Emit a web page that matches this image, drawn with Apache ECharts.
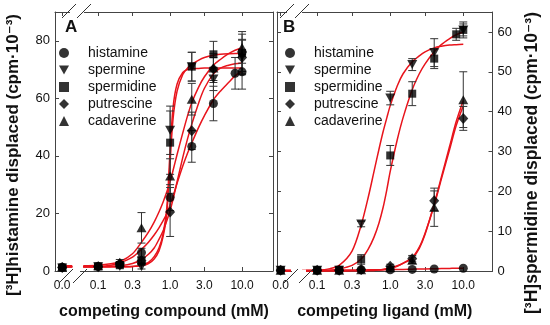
<!DOCTYPE html>
<html><head><meta charset="utf-8">
<script src="https://cdn.jsdelivr.net/npm/echarts@6/dist/echarts.min.js"></script>
<style>html,body{margin:0;padding:0;background:#fff}#c{width:550px;height:325px}</style>
</head><body><div id="c"></div>
<script>
// ---------- data ----------
const seriesNames = ['histamine', 'spermine', 'spermidine', 'putrescine', 'cadaverine'];
const tickConcs = [0, 0.1, 0.3, 1, 3, 10];
const tickLabels = ['0.0', '0.1', '0.3', '1.0', '3.0', '10.0'];
const yTicksA = [0, 20, 40, 60, 80];
const yTicksB = [0, 10, 20, 30, 40, 50, 60];
const titleYA = '[³H]histamine displaced (cpm·10⁻³)';
const titleYB = '[³H]spermidine displaced (cpm·10⁻³)';

// Panel A: measured points (mean, error) at concentrations (mM)
const concA = [0, 0.1, 0.2, 0.4, 1, 2, 4, 8, 10];
const histamineA  = [1.3, 1.6, 2.3, 6.4, 25.5, 43.3, 58.2, 68.7, 69.2];
const histamineAErr = [0.5, 0.5, 0.8, 1.5, 4.5, 5.5, 6, 5.5, 6];
const spermineA   = [1.0, 1.5, 1.6, 1.5, 48.9, 71.0, 66.7, null, 74.5];
const spermineAErr = [0.3, 0.3, 0.5, 0.8, 8.4, 5, 4, null, 6];
const spermidineA = [1.2, 1.6, 2.0, 3.5, 44.6, 71.0, 75.3, null, 75.8];
const spermidineAErr = [0.4, 0.4, 0.6, 1.5, 11, 5, 4.5, null, 6.5];
const putrescineA = [1.2, 1.5, 2.5, 3.6, 20.5, 48.7, 70.2, null, 74.2];
const putrescineAErr = [0.4, 0.5, 0.8, 1, 8.5, 6.5, 4, null, 6];
const cadaverineA = [1.5, 1.8, 3.0, 15.0, 33.0, 59.7, 70.5, null, 77.7];
const cadaverineAErr = [0.5, 0.5, 1, 5.3, 6, 5.5, 5, null, 5.5];

// Panel A: fitted curves
const fitConcA = [0.062, 0.1, 0.15, 0.2, 0.3, 0.4, 0.5, 0.6, 0.7, 0.8, 0.9, 1.0, 1.1, 1.25, 1.5, 1.75, 2, 2.5, 3, 4, 5, 6.5, 8, 10];
const histamineFitA  = [1.5, 1.6, 2.0, 2.8, 4.8, 7.5, 10, 12.5, 15, 17.5, 20, 23, 26, 30.5, 36.5, 41, 44.5, 50, 54, 59.5, 62.5, 65.5, 67.8, 69.5];
const spermineFitA   = [1.5, 1.5, 1.5, 1.5, 1.6, 2.0, 3.0, 5.0, 8.0, 13, 22, 42, 57, 65, 69, 70, 70.3, 70.4, 70.5, 70.5, 70.5, 70.5, 70.5, 70.5];
const spermidineFitA = [1.5, 1.5, 1.5, 1.5, 1.6, 1.8, 2.6, 4.2, 7, 12, 20, 38, 53, 62.5, 68.3, 70.5, 71.8, 73.3, 74.2, 75, 75.3, 75.5, 75.6, 75.6];
const putrescineFitA = [1.5, 1.5, 1.6, 1.8, 2.6, 4.0, 5.8, 8, 11, 14, 17.5, 21, 25, 31, 39.5, 46, 51, 58.5, 63.5, 68.5, 70.5, 71.5, 72, 72.3];
const cadaverineFitA = [1.8, 2.0, 2.5, 3.2, 6.0, 10, 13.5, 17, 20.5, 24, 27.5, 31, 35, 40.5, 48, 54, 58.5, 64, 67.5, 71.5, 73.5, 75.5, 76.7, 77.6];

// Panel B: measured points
const concB = [0, 0.1, 0.2, 0.4, 1, 2, 4, 8, 10];
const histamineB  = [0.2, 0.2, 0.2, 0.3, 0.3, 0.4, 0.5, null, 0.7];
const histamineBErr = [0, 0, 0, 0, 0, 0, 0, null, 0];
const spermineB   = [0.2, 0.2, 0.2, 11.8, 43.4, 51.8, 54.8, null, 60.5];
const spermineBErr = [0, 0, 0, 0.7, 1.7, 1.5, 3.5, null, 2];
const spermidineB = [0.2, 0.2, 0.3, 2.9, 29.0, 44.5, 53.3, 59.4, 60.5];
const spermidineBErr = [0, 0, 0, 1.2, 2.5, 3, 2.5, 1.5, 1.5];
const putrescineB = [0.2, 0.2, 0.2, 0.4, 1.2, 3.1, 17.6, null, 38.3];
const putrescineBErr = [0, 0, 0, 0, 0.5, 0.8, 2.5, null, 3];
const cadaverineB = [0.2, 0.2, 0.2, 0.3, 0.8, 2.7, 16.0, null, 43.0];
const cadaverineBErr = [0, 0, 0, 0, 0.3, 0.8, 4.8, null, 7];

// Panel B: fitted curves
const fitConcB = [0.062, 0.1, 0.15, 0.2, 0.3, 0.4, 0.5, 0.6, 0.7, 0.8, 0.9, 1.0, 1.25, 1.5, 2, 2.5, 3, 4, 5, 6.5, 8, 10];
const histamineFitB  = [0.2, 0.2, 0.2, 0.2, 0.25, 0.25, 0.3, 0.3, 0.3, 0.3, 0.35, 0.35, 0.4, 0.4, 0.45, 0.5, 0.5, 0.55, 0.6, 0.65, 0.7, 0.7];
const spermineFitB   = [0.1, 0.2, 0.6, 1.4, 5.0, 11.5, 18.5, 25, 30.5, 35, 38.5, 41.5, 46.5, 49.5, 52.5, 54, 55, 56, 56.4, 56.7, 56.8, 56.9];
const spermidineFitB = [0, 0.1, 0.2, 0.5, 1.4, 3.0, 5.5, 8.5, 12, 16, 20.5, 25, 33, 38.5, 45.5, 49.5, 52, 55, 56.8, 58.3, 59.3, 60];
const putrescineFitB = [0, 0, 0, 0, 0.05, 0.05, 0.1, 0.15, 0.3, 0.4, 0.6, 0.8, 1.3, 2.0, 3.4, 6.0, 9.5, 16.5, 23, 30.5, 36.5, 41.5];
const cadaverineFitB = [0, 0, 0, 0, 0.05, 0.05, 0.1, 0.15, 0.25, 0.35, 0.5, 0.7, 1.2, 1.9, 3.2, 5.7, 9.2, 16.8, 23.5, 31.3, 37.5, 42.8];

// ---------- helpers ----------
const ZERO_POS = -1.5;       // where the "0.0" (no compound) column sits on the broken log axis
const STUB_END = -1.36;      // end of the short fitted-baseline segment left of the break
const pos = c => c === 0 ? ZERO_POS : Math.log10(c);
const tickPos = tickConcs.map(pos);
const FONT = "'Liberation Sans', Arial, 'DejaVu Sans', sans-serif";
const AXIS_COLOR = '#444';
const RED = '#e8141c';

const symbols = {
  histamine: {symbol: 'circle', size: 9},
  spermine: {symbol: 'path://M0,0L10,0L5,9Z', size: [10, 9]},
  spermidine: {symbol: 'rect', size: 8},
  putrescine: {symbol: 'diamond', size: [10, 11]},
  cadaverine: {symbol: 'triangle', size: [10, 9]}
};
const legendIcons = ['circle', 'path://M0,0L10,0L5,9Z', 'rect', 'diamond', 'triangle'];

function points(conc, vals, errs) {
  const out = [];
  conc.forEach((c, i) => { if (vals[i] != null) out.push([pos(c), vals[i], errs[i]]); });
  return out;
}
function fit(conc, vals) { return conc.map((c, i) => [pos(c), vals[i]]); }

function labelFmt(v) {
  let best = 0;
  tickPos.forEach((p, i) => { if (Math.abs(p - v) < Math.abs(tickPos[best] - v)) best = i; });
  return tickLabels[best];
}

const series = [];
function addPanel(panel, conc, pts, fits, fitConc) {
  const xi = panel * 2, yi = panel * 2;
  seriesNames.forEach((name, k) => {
    series.push({
      type: 'line', name: 'fit-' + name + panel, xAxisIndex: xi, yAxisIndex: yi,
      data: fit(fitConc, fits[k]), smooth: 0.3, showSymbol: false, silent: true,
      lineStyle: {color: RED, width: 1.5}, z: 2
    });
    series.push({
      type: 'line', name: 'stub-' + name + panel, xAxisIndex: xi, yAxisIndex: yi,
      data: [[ZERO_POS, fits[k][0]], [STUB_END, fits[k][0]]], showSymbol: false, silent: true,
      lineStyle: {color: RED, width: 1.5}, z: 2
    });
    const d = points(conc, pts[k][0], pts[k][1]);
    series.push({
      type: 'custom', name: 'err-' + name + panel, xAxisIndex: xi, yAxisIndex: yi, silent: true, z: 3,
      encode: {x: 0, y: 1},
      renderItem(params, api) {
        const x = api.value(0), y = api.value(1), e = api.value(2);
        if (!e) return null;
        const t = api.coord([x, y + e]), b = api.coord([x, y - e]);
        const hw = 4, st = {stroke: '#333', lineWidth: 1};
        return {type: 'group', children: [
          {type: 'line', shape: {x1: t[0], y1: t[1], x2: b[0], y2: b[1]}, style: st},
          {type: 'line', shape: {x1: t[0] - hw, y1: t[1], x2: t[0] + hw, y2: t[1]}, style: st},
          {type: 'line', shape: {x1: b[0] - hw, y1: b[1], x2: b[0] + hw, y2: b[1]}, style: st}
        ]};
      },
      data: d
    });
    series.push({
      type: 'scatter', name, xAxisIndex: xi, yAxisIndex: yi, z: 4,
      symbol: symbols[name].symbol, symbolSize: symbols[name].size,
      itemStyle: {color: '#000'}, data: d.map(p => [p[0], p[1]])
    });
  });
}

addPanel(0, concA,
  [[histamineA, histamineAErr], [spermineA, spermineAErr], [spermidineA, spermidineAErr], [putrescineA, putrescineAErr], [cadaverineA, cadaverineAErr]],
  [histamineFitA, spermineFitA, spermidineFitA, putrescineFitA, cadaverineFitA], fitConcA);
addPanel(1, concB,
  [[histamineB, histamineBErr], [spermineB, spermineBErr], [spermidineB, spermidineBErr], [putrescineB, putrescineBErr], [cadaverineB, cadaverineBErr]],
  [histamineFitB, spermineFitB, spermidineFitB, putrescineFitB, cadaverineFitB], fitConcB);

const line = {show: true, onZero: false, lineStyle: {color: AXIS_COLOR, width: 1}};
function xAx(grid, position, min, max, withLabel, name) {
  return {
    type: 'value', gridIndex: grid, position, min, max,
    axisLine: line, splitLine: {show: false},
    axisTick: {show: true, inside: true, length: 4, customValues: tickPos, lineStyle: {color: AXIS_COLOR}},
    axisLabel: withLabel ? {show: true, customValues: tickPos, formatter: labelFmt, fontSize: 12, color: '#111', fontFamily: FONT, margin: 9} : {show: false},
    name: name || '', nameLocation: 'middle', nameGap: 33,
    nameTextStyle: {fontSize: 16, fontWeight: 'bold', color: '#111', fontFamily: FONT}
  };
}
function yAx(grid, position, max, ticks, withLabel) {
  return {
    type: 'value', gridIndex: grid, position, min: 0, max,
    axisLine: line, splitLine: {show: false},
    axisTick: {show: true, inside: true, length: 4, customValues: ticks, lineStyle: {color: AXIS_COLOR}},
    axisLabel: withLabel ? {show: true, customValues: ticks, fontSize: 13, color: '#111', fontFamily: FONT, margin: 5} : {show: false}
  };
}

const legendData = seriesNames.map((n, i) => ({name: n, icon: legendIcons[i]}));
function legend(left) {
  return {
    left, top: 46, orient: 'vertical', itemWidth: 10, itemHeight: 10, itemGap: 3, padding: 0,
    selectedMode: false, data: legendData,
    textStyle: {fontSize: 14, color: '#111', fontFamily: FONT, padding: [0, 0, 0, 14], lineHeight: 14}
  };
}

const slashStyle = {stroke: '#333', lineWidth: 1};
function slash(cx, cy) {
  return {type: 'line', silent: true, z: 10, shape: {x1: cx - 7, y1: cy + 7, x2: cx + 7, y2: cy - 7}, style: slashStyle};
}
function gap(x, y, w) {
  return {type: 'rect', silent: true, z: 9, shape: {x, y: y - 1.5, width: w, height: 3}, style: {fill: '#fff'}};
}
function vtitle(text, cx, cy, size) {
  return {type: 'text', silent: true, x: cx, y: cy, rotation: Math.PI / 2,
    style: {text, fontSize: size, fontWeight: 'bold', fontFamily: FONT, fill: '#111', align: 'center', verticalAlign: 'middle'}};
}

const chart = echarts.init(document.getElementById('c'), null, {renderer: 'canvas'});
chart.setOption({
  animation: false,
  backgroundColor: '#fff',
  title: [
    {text: 'A', left: 65, top: 19, padding: 0, textStyle: {fontSize: 17, fontWeight: 'bold', color: '#111', fontFamily: FONT}},
    {text: 'B', left: 283, top: 19, padding: 0, textStyle: {fontSize: 17, fontWeight: 'bold', color: '#111', fontFamily: FONT}}
  ],
  legend: [legend(59), legend(285)],
  grid: [
    {left: 55, top: 12, width: 218, height: 259},
    {left: 277, top: 12, width: 215.5, height: 259}
  ],
  xAxis: [
    xAx(0, 'bottom', -1.6, 1.43, true, 'competing compound (mM)'),
    xAx(0, 'top', -1.6, 1.43, false),
    xAx(1, 'bottom', -1.55, 1.40, true, 'competing ligand (mM)'),
    xAx(1, 'top', -1.55, 1.40, false)
  ],
  yAxis: [
    yAx(0, 'left', 90, yTicksA, true),
    yAx(0, 'right', 90, yTicksA, false),
    yAx(1, 'right', 65, yTicksB, true),
    yAx(1, 'left', 65, yTicksB, false)
  ],
  series,
  graphic: [
    vtitle(titleYA, 13, 155, 17),
    vtitle(titleYB, 532, 163, 17.5),
    gap(70, 12, 14), slash(69, 11), slash(84, 11),
    gap(67, 271, 13), slash(66, 276), slash(80, 276),
    gap(287, 12, 15), slash(287, 11), slash(302, 11),
    gap(292, 271, 14), slash(291, 276), slash(306, 276)
  ]
});
</script></body></html>
